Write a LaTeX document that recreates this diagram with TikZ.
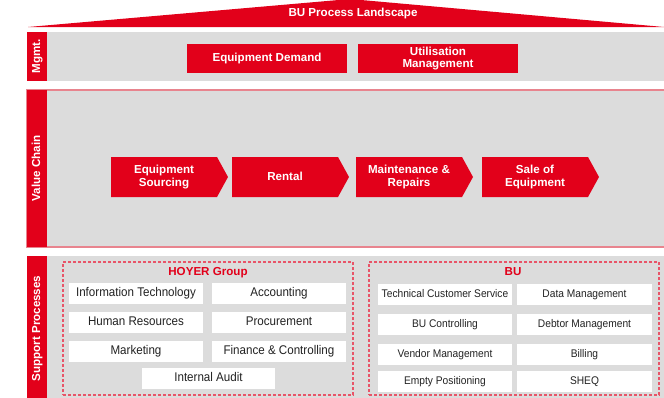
\documentclass[tikz,border=0pt]{standalone}
\usepackage{fontspec}
\setmainfont{Liberation Sans}
\newfontfamily\condfont{Liberation Sans}[FakeStretch=0.92]
\definecolor{hred}{HTML}{E2001A}
\definecolor{hgray}{HTML}{DCDCDC}
\definecolor{hpink}{HTML}{E8848E}
\definecolor{hdash}{HTML}{E85468}
\definecolor{htext}{HTML}{222222}
\tikzset{
  bigf/.style={font=\bfseries\fontsize{11.6}{12.7}\selectfont},
  redbox/.style={bigf, fill=hred, text=white, align=center, inner sep=0pt},
  sidelabel/.style={redbox, rotate=90, text height=8.5pt, text depth=2.5pt},
  graybox/.style={fill=hgray, inner sep=0pt},
  whitebox/.style={fill=white, text=htext, inner sep=0pt, minimum height=21pt, text height=9pt, text depth=2.7pt, font=\condfont\fontsize{12.6}{14}\selectfont},
  whiteboxs/.style={fill=white, text=htext, inner sep=0pt, minimum height=21pt, text height=8pt, text depth=2.4pt, font=\condfont\fontsize{11.1}{13}\selectfont},
  chevtext/.style={bigf, text=white, align=center, inner sep=0pt},
  chev/.style={fill=hred},
  groupbox/.style={draw=hdash, dash pattern=on 3pt off 2pt, line width=1.1pt, inner sep=0pt},
  grouptitle/.style={bigf, text=hred, text height=8.5pt, text depth=2.5pt}
}
\begin{document}
\begin{tikzpicture}[x=1pt,y=-1pt]
\useasboundingbox (0,0) rectangle (664,397);
% roof
\fill[hred] (28,27) -- (350,-1) -- (664,27) -- cycle;
\node[bigf, text=white, text height=8.5pt, text depth=2.5pt, inner sep=0pt] (title) at (353,13) {BU Process Landscape};
% Mgmt band
\node[graybox, minimum width=617pt, minimum height=49pt] (mgmtband) at (355.5,56.5) {};
\node[sidelabel, minimum width=49pt, minimum height=20pt] (mgmt) at (37,56.5) {Mgmt.};
\node[redbox, minimum width=160pt, minimum height=29pt, text height=8.5pt, text depth=2.5pt] (demand) at (267,58.5) {Equipment Demand};
\node[redbox, minimum width=160pt, minimum height=29pt] (util) at (438,58.5) {Utilisation\\Management};
% Value chain band
\node[graybox, draw=hpink, line width=1.3pt, minimum width=640pt, minimum height=157pt] (vcband) at (347,168.5) {};
\node[sidelabel, minimum width=157pt, minimum height=20pt] (vc) at (37,168.5) {Value Chain};
% chevrons
\foreach \n/\x/\t in {c1/111/{Equipment\\Sourcing}, c3/356/{Maintenance \&\\Repairs}, c4/482/{Sale of\\Equipment}}{
  \fill[chev] (\x,157) -- ++(106,0) -- ++(11,20) -- ++(-11,20) -- ++(-106,0) -- cycle;
  \node[chevtext, minimum width=106pt, minimum height=40pt] (\n) at (\x+53,177) {\t};
}
\fill[chev] (232,157) -- ++(106,0) -- ++(11,20) -- ++(-11,20) -- ++(-106,0) -- cycle;
\node[chevtext, minimum width=106pt, minimum height=40pt, text height=8.5pt, text depth=2.5pt] (c2) at (285,177) {Rental};
% Support band
\node[graybox, minimum width=617pt, minimum height=145pt] (spband) at (355.5,328.5) {};
\node[sidelabel, minimum width=145pt, minimum height=20pt] (sp) at (37,328.5) {Support Processes};
% HOYER group
\node[groupbox, minimum width=290pt, minimum height=133pt] (hoyer) at (208,328.5) {};
\node[grouptitle, inner sep=0pt] (hoyert) at (208,272.5) {HOYER Group};
\node[whitebox, minimum width=134pt] (it) at (136,293.5) {Information Technology};
\node[whitebox, minimum width=134pt] (acc) at (279,293.5) {Accounting};
\node[whitebox, minimum width=134pt] (hr) at (136,322.5) {Human Resources};
\node[whitebox, minimum width=134pt] (proc) at (279,322.5) {Procurement};
\node[whitebox, minimum width=134pt] (mkt) at (136,351.5) {Marketing};
\node[whitebox, minimum width=134pt] (fin) at (279,351.5) {Finance \& Controlling};
\node[whitebox, minimum width=133pt] (audit) at (208.5,378.5) {Internal Audit};
% BU group
\node[groupbox, minimum width=290pt, minimum height=133pt] (bu) at (514,328.5) {};
\node[grouptitle, inner sep=0pt] (but) at (513,272.5) {BU};
\node[whiteboxs, minimum width=134pt] (tcs) at (445,294.5) {Technical Customer Service};
\node[whiteboxs, minimum width=135pt] (dm) at (584.5,294.5) {Data Management};
\node[whiteboxs, minimum width=134pt] (buc) at (445,324.5) {BU Controlling};
\node[whiteboxs, minimum width=135pt] (debt) at (584.5,324.5) {Debtor Management};
\node[whiteboxs, minimum width=134pt] (vend) at (445,354.5) {Vendor Management};
\node[whiteboxs, minimum width=135pt] (bill) at (584.5,354.5) {Billing};
\node[whiteboxs, minimum width=134pt] (empty) at (445,381.5) {Empty Positioning};
\node[whiteboxs, minimum width=135pt] (sheq) at (584.5,381.5) {SHEQ};
\end{tikzpicture}
\end{document}
